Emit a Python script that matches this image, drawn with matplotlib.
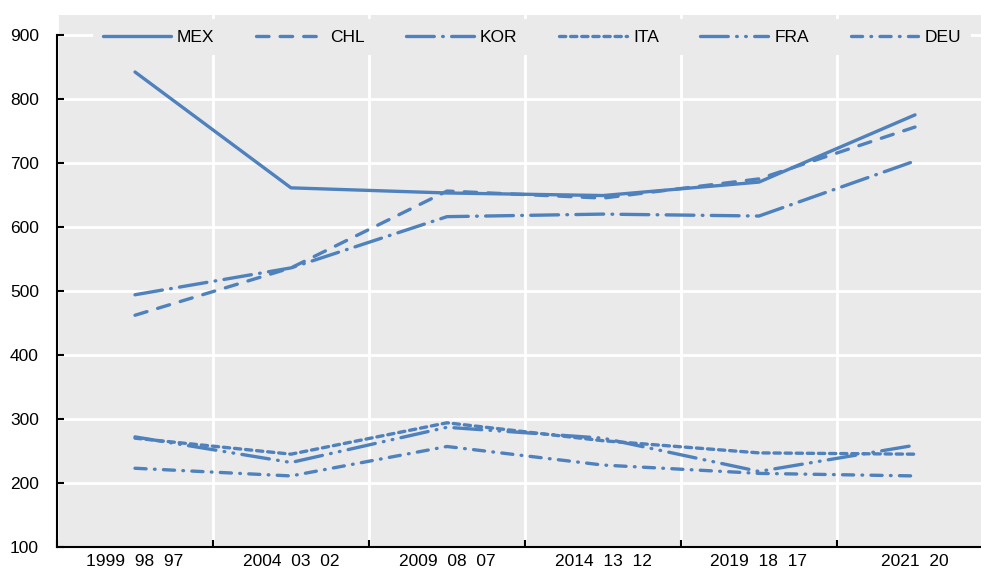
import numpy as np
import matplotlib
matplotlib.use("Agg")
import matplotlib.pyplot as plt

plt.rcParams["font.family"] = ["Liberation Sans Narrow", "Liberation Sans", "DejaVu Sans"]
plt.rcParams["lines.scale_dashes"] = False

periods = ["1999  98  97", "2004  03  02", "2009  08  07", "2014  13  12", "2019  18  17", "2021  20"]

mex = [842, 661, 653, 649, 670, 775]
chl = [462, 536, 656, 645, 675, 756]
kor = [494, 536, 616, 620, 617, 703]
ita = [270, 245, 294, 266, 247, 245]
fra = [272, 232, 287, 270, 218, 259]
deu = [223, 211, 257, 228, 215, 211]

series = ["MEX", "CHL", "KOR", "ITA", "FRA", "DEU"]
values = [mex, chl, kor, ita, fra, deu]
styles = ["-", (0, (9, 8)), (0, (20, 6, 0.5, 6)), (0, (4.5, 3.5)),
          (0, (20, 6, 0.5, 6, 0.5, 6)), (0, (8, 6, 0.5, 6))]

blue = "#4F81BD"
bg = "#EAEAEA"

fig = plt.figure(figsize=(9.81, 5.71), dpi=100)
ax = fig.add_axes([57 / 981, 24 / 571, 936 / 981, 532 / 571])
ax.set_facecolor(bg)

x = np.arange(len(periods))
for name, v, ls in zip(series, values, styles):
    ax.plot(x, v, color=blue, lw=2.4, linestyle=ls, label=name,
            dash_capstyle="round", solid_capstyle="round")

ax.set_xlim(-0.5, 5.5)
ax.set_ylim(100, 931)
ax.set_yticks(range(100, 1000, 100))
ax.set_xticks(np.arange(-0.5, 6, 1))
ax.set_xticklabels([])
ax.set_xticks(x, minor=True)
ax.set_xticklabels(periods, minor=True)
ax.tick_params(axis="x", which="major", direction="in", length=5, width=1.5, color="black")
ax.tick_params(axis="x", which="minor", length=0, pad=5, labelsize=12.5)
ax.tick_params(axis="y", direction="in", length=5, width=1.5, pad=13, labelsize=12.5)

ax.grid(True, which="major", color="white", lw=2)
ax.set_axisbelow(True)
for s in ["top", "right"]:
    ax.spines[s].set_visible(False)
ax.spines["left"].set_bounds(100, 900)
ax.spines["left"].set_linewidth(1.5)
ax.spines["bottom"].set_linewidth(1.5)

leg = ax.legend(loc="upper center", bbox_to_anchor=(0.5075, 1.0), ncol=6, frameon=True,
                fontsize=12.5, handlelength=3.9, handletextpad=0.35, columnspacing=2.4,
                borderaxespad=0.25, borderpad=0.6)
leg.get_frame().set_facecolor(bg)
leg.get_frame().set_edgecolor("none")
leg.get_frame().set_alpha(1)

fig.savefig("out.png", dpi=100)
